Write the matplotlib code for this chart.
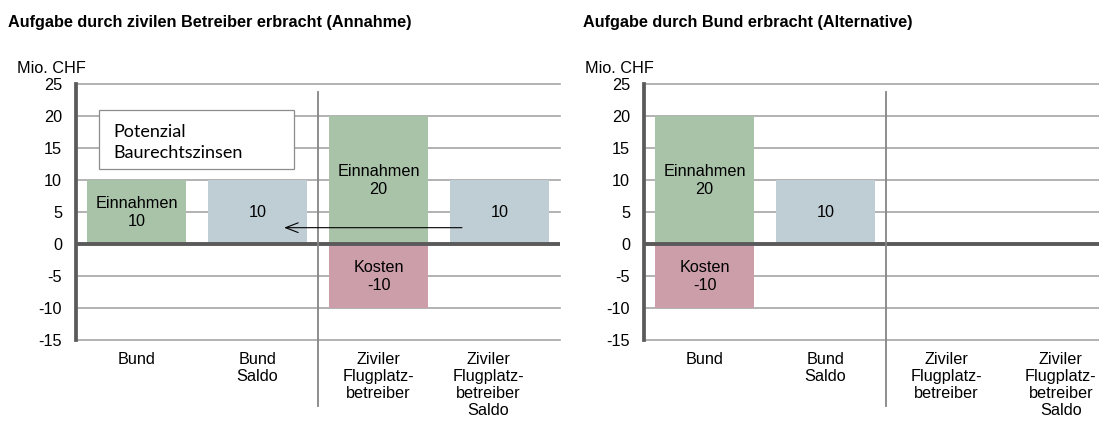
import matplotlib
matplotlib.use("Agg")
import matplotlib.pyplot as plt
from matplotlib.patches import Rectangle

plt.rcParams['font.family'] = ['Liberation Sans', 'DejaVu Sans']
plt.rcParams['axes.unicode_minus'] = False

categories = ["Bund", "Bund\nSaldo", "Ziviler\nFlugplatz-\nbetreiber",
              "Ziviler\nFlugplatz-\nbetreiber\nSaldo"]
yticks = [-15, -10, -5, 0, 5, 10, 15, 20, 25]

# Aufgabe durch zivilen Betreiber (Annahme)
left_einnahmen = [10, None, 20, None]
left_kosten = [None, None, -10, None]
left_saldo = [None, 10, None, 10]

# Aufgabe durch Bund (Alternative)
right_einnahmen = [20, None, None, None]
right_kosten = [-10, None, None, None]
right_saldo = [None, 10, None, None]

titles = ["Aufgabe durch zivilen Betreiber erbracht (Annahme)",
          "Aufgabe durch Bund erbracht (Alternative)"]

GREEN = "#a9c3a9"
PINK = "#cc9eaa"
BLUE = "#bfcdd5"
GRID = "#a6a6a6"
DARK = "#5a5a5a"
FS = 11.7

W, H = 1099, 425
fig = plt.figure(figsize=(W / 100, H / 100), dpi=100)


def draw_bars(ax, values, color, prefix):
    for i, v in enumerate(values):
        if v is None:
            continue
        ax.bar(i, v, width=0.82, color=color, zorder=2)
        txt = f"{prefix}\n{v}" if prefix else f"{v}"
        ax.text(i, v / 2, txt, ha="center", va="center", fontsize=FS,
                linespacing=1.25, zorder=4)


def setup(ax, last_shift):
    ax.set_xlim(-0.5, 3.5)
    ax.set_ylim(-15, 25)
    ax.set_yticks(yticks)
    # the last label sits a little left of its column, away from the edge
    ax.set_xticks([0, 1, 2, 3 - last_shift])
    ax.set_xticklabels(categories, fontsize=FS, linespacing=1.15)
    ax.tick_params(axis="both", length=0)
    ax.tick_params(axis="y", pad=10, labelsize=FS)
    ax.tick_params(axis="x", pad=9)
    for s in ["top", "right", "bottom"]:
        ax.spines[s].set_visible(False)
    ax.spines["left"].set_color(DARK)
    ax.spines["left"].set_linewidth(2.7)
    ax.spines["left"].set_zorder(5)
    for t in yticks:
        if t == 0:
            continue
        ax.axhline(t, color=GRID, lw=1.2, zorder=1, clip_on=False)
    ax.axhline(0, color=DARK, lw=2.8, zorder=3)
    # separator between Bund and ziviler Betreiber
    ax.plot([1.5, 1.5], [23.8, -25.3], color="#858585", lw=1.3,
            clip_on=False, zorder=3)


ax_l = fig.add_axes([76 / W, 1 - 340 / H, 484 / W, 256 / H])
ax_r = fig.add_axes([644 / W, 1 - 340 / H, 484 / W, 256 / H])

for ax, shift, ein, kos, sal in [
        (ax_l, 0.095, left_einnahmen, left_kosten, left_saldo),
        (ax_r, 0.055, right_einnahmen, right_kosten, right_saldo)]:
    setup(ax, shift)
    draw_bars(ax, ein, GREEN, "Einnahmen")
    draw_bars(ax, kos, PINK, "Kosten")
    draw_bars(ax, sal, BLUE, None)

# Transfer des Saldos zum Bund
ax_l.annotate("", xy=(1.22, 2.55), xytext=(2.69, 2.55),
              arrowprops=dict(arrowstyle="->,head_length=0.9,head_width=0.35",
                              color="black", lw=0.8, shrinkA=0, shrinkB=0),
              zorder=4)

ax_l.add_patch(Rectangle((-0.31, 11.7), 1.61, 9.24, facecolor="white",
                         edgecolor="#8c8c8c", lw=0.9, zorder=6))
ax_l.text(-0.194, 15.9, "Potenzial\nBaurechtszinsen", ha="left", va="center",
          fontsize=13, family=["Lato", "DejaVu Sans"], linespacing=1.4,
          zorder=7)

for x0, title in zip([8, 583], titles):
    fig.text(x0 / W, 1 - 27 / H, title, ha="left", va="baseline",
             fontsize=FS, fontweight="bold")
for x0 in [17, 585]:
    fig.text(x0 / W, 1 - 73 / H, "Mio. CHF", ha="left", va="baseline", fontsize=FS)

fig.savefig("out.png", dpi=100)
